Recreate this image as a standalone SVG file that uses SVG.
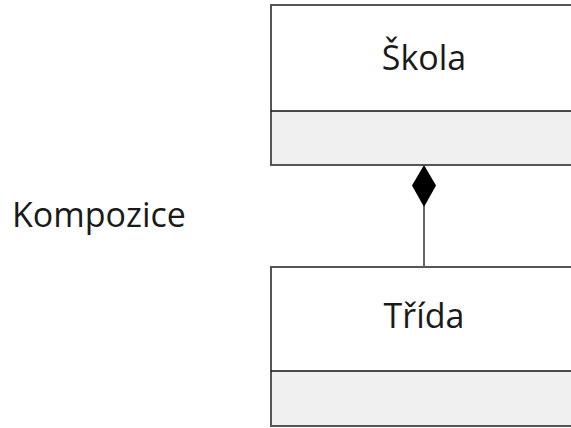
<svg xmlns="http://www.w3.org/2000/svg" width="571" height="428" viewBox="0 0 571 428">
<style>
.box{fill:#ffffff;stroke:#555555;stroke-width:2}
.comp{fill:#f0f0f0;stroke:none}
.div{stroke:#111111;stroke-width:1.5}
.lbl{font-family:"Open Sans","Noto Sans",sans-serif;font-size:34px;fill:#1a1a1a}
.conn{stroke:#666666;stroke-width:2;fill:none}
</style>
<rect width="571" height="428" fill="#ffffff"/>
<g id="skola">
<rect class="box" x="271" y="5" width="320" height="160"/>
<rect class="comp" x="272" y="111" width="318" height="53"/>
<line class="div" x1="271" y1="111" x2="591" y2="111"/>
<text class="lbl" x="424" y="70" text-anchor="middle">Škola</text>
</g>
<g id="trida">
<rect class="box" x="271" y="267" width="320" height="159"/>
<rect class="comp" x="272" y="371" width="318" height="54"/>
<line class="div" x1="271" y1="371" x2="591" y2="371"/>
<text class="lbl" x="424" y="328" text-anchor="middle">Třída</text>
</g>
<g id="connectors">
<line class="conn" x1="424" y1="206" x2="424" y2="267"/>
<polygon points="424,165 436,185.5 424,207 412,185.5" fill="#000000"/>
</g>
<text class="lbl" x="12" y="227">Kompozice</text>
</svg>
